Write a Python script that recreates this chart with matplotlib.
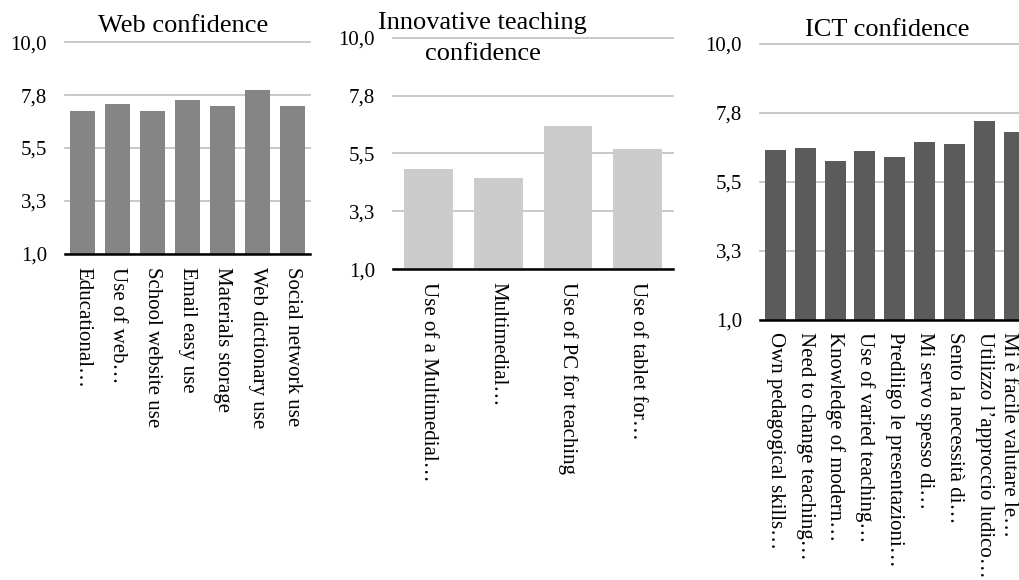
import numpy as np
import matplotlib.pyplot as plt
import matplotlib.transforms as mtransforms

plt.rcParams['font.family'] = ['Liberation Serif', 'DejaVu Serif']

#The data
web_labels = ['Educational…', 'Use of web…', 'School website use', 'Email easy use',
              'Materials storage', 'Web dictionary use', 'Social network use']
web_values = [7.09, 7.36, 7.09, 7.54, 7.30, 7.95, 7.27]

innov_labels = ['Use of a Multimedial…', 'Multimedial…', 'Use of PC for teaching',
                'Use of tablet for…']
innov_values = [4.91, 4.54, 6.55, 5.69]

ict_labels = ['Own pedagogical skills…', 'Need to change teaching…', 'Knowledge of modern…',
              'Use of varied teaching…', 'Prediligo le presentazioni…', 'Mi servo spesso di…',
              'Sento la necessità di…', 'Utilizzo l’approccio ludico…', 'Mi è facile valutare le…']
ict_values = [6.54, 6.60, 6.17, 6.50, 6.31, 6.81, 6.73, 7.50, 7.13]

y_ticks = [1.0, 3.25, 5.5, 7.75, 10.0]
y_ticklabels = ['1,0', '3,3', '5,5', '7,8', '10,0']

fig = plt.figure(figsize=(10.2, 5.8), dpi=100)


def draw_panel(rect, labels, values, color):
    ax = fig.add_axes(rect)
    ind = np.arange(len(values))
    ax.bar(ind, values, 0.7, color=color, zorder=2)

    ax.set_xlim(-0.5, len(values) - 0.5)
    ax.set_ylim(1, 10)
    ax.set_yticks(y_ticks, y_ticklabels)
    ax.set_xticks(ind, labels, rotation=-90)

    # grid + only the bottom spine
    ax.yaxis.grid(True, color='#bfbfbf', lw=1.2)
    for line in ax.get_ygridlines():
        line.set_clip_on(False)
    ax.set_axisbelow(True)
    for side in ['top', 'left', 'right']:
        ax.spines[side].set_visible(False)
    ax.spines['bottom'].set_color('black')
    ax.spines['bottom'].set_linewidth(1.8)
    ax.spines['bottom'].set_zorder(3)

    ax.tick_params(axis='both', length=0, labelsize=15)
    ax.tick_params(axis='y', pad=13)
    ax.tick_params(axis='x', pad=9)
    return ax


draw_panel([0.0637, 0.562, 0.2402, 0.3655], web_labels, web_values, '#858585')
draw_panel([0.3853, 0.5357, 0.2745, 0.3993], innov_labels, innov_values, '#cccccc')
ax3 = draw_panel([0.7451, 0.4483, 0.2647, 0.4759], ict_labels, ict_values, '#5b5b5b')

# last label of the ICT panel sits a bit left so it stays inside the picture
last = ax3.get_xticklabels()[-1]
last.set_transform(last.get_transform() +
                   mtransforms.ScaledTranslation(-0.06, 0, fig.dpi_scale_trans))

#titles
fig.text(183.5 / 1020, 1 - 32 / 580, 'Web confidence', fontsize=19,
         ha='center', va='baseline')
fig.text(482.5 / 1020, 1 - 12 / 580, 'Innovative teaching\nconfidence', fontsize=19,
         ha='center', va='top', linespacing=1.5)
fig.text(887.5 / 1020, 1 - 36 / 580, 'ICT confidence', fontsize=19,
         ha='center', va='baseline')

fig.savefig('out.png', dpi=100)
